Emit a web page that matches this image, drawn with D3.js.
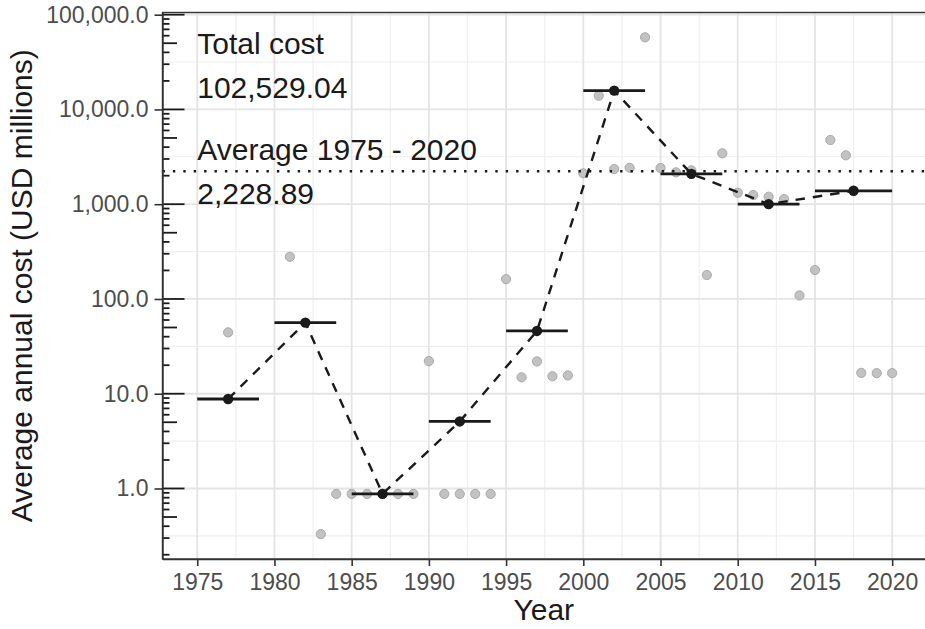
<!DOCTYPE html>
<html>
<head>
<meta charset="utf-8">
<script src="https://cdn.jsdelivr.net/npm/d3@7"></script>
<style>
body { margin: 0; background: #fff; }
text { font-family: "Liberation Sans", Arial, sans-serif; }
</style>
</head>
<body>
<svg id="chart" width="925" height="629"></svg>
<script>
//Yearly cost (USD millions), years without cost are not shown on log scale
var years = [1977, 1981, 1983, 1984, 1985, 1986, 1987, 1988, 1989,
             1990, 1991, 1992, 1993, 1994, 1995, 1996, 1997, 1998, 1999,
             2000, 2001, 2002, 2003, 2004, 2005, 2006, 2007, 2008, 2009,
             2010, 2011, 2012, 2013, 2014, 2015, 2016, 2017, 2018, 2019, 2020];
var costs = [44.4, 279, 0.33, 0.877, 0.877, 0.877, 0.877, 0.877, 0.877,
             22.1, 0.877, 0.877, 0.877, 0.877, 162, 14.9, 21.9, 15.3, 15.6,
             2118, 13960, 2350, 2426, 57700, 2406, 2168, 2276, 179, 3443,
             1321, 1250, 1199, 1133, 109, 202, 4757, 3279, 16.6, 16.5, 16.5];

//5-year period averages
var periodStart = [1975, 1980, 1985, 1990, 1995, 2000, 2005, 2010, 2015];
var periodEnd   = [1979, 1984, 1989, 1994, 1999, 2004, 2009, 2014, 2020];
var periodMid   = [1977, 1982, 1987, 1992, 1997, 2002, 2007, 2012, 2017.5];
var periodMean  = [8.8, 56.3, 0.877, 5.1, 46, 15800, 2090, 1001, 1385];

var totalCost = 102529.04;
var averageCost = 2228.89;

//Tick labels
var xTicks = [1975, 1980, 1985, 1990, 1995, 2000, 2005, 2010, 2015, 2020];
var yTicks = [1, 10, 100, 1000, 10000, 100000];

//Measurements for the panel
var pLeft = 162.5, pRight = 926.9, pTop = 12.5, pBottom = 559;

var xScale = d3.scaleLinear()
    .domain([1972.75, 2022.25])
    .range([pLeft, pRight]);

var yScale = d3.scaleLog()
    .domain([Math.pow(10, -0.744), Math.pow(10, 5.023)])
    .range([pBottom, pTop]);

var svg = d3.select('#chart');
var fmt = d3.format(',.1f');

//Grid
var minorY = [-0.5, 0.5, 1.5, 2.5, 3.5, 4.5].map(e => Math.pow(10, e));
var minorX = xTicks.slice(0, -1).map(d => d + 2.5);

var grid = svg.append('g');
grid.selectAll('.mny').data(minorY).enter().append('line')
    .attr('x1', pLeft).attr('x2', pRight)
    .attr('y1', d => yScale(d)).attr('y2', d => yScale(d))
    .attr('stroke', '#eeeeee').attr('stroke-width', 1.1);
grid.selectAll('.mnx').data(minorX).enter().append('line')
    .attr('y1', pTop).attr('y2', pBottom)
    .attr('x1', d => xScale(d)).attr('x2', d => xScale(d))
    .attr('stroke', '#eeeeee').attr('stroke-width', 1.1);
grid.selectAll('.mjy').data(yTicks).enter().append('line')
    .attr('x1', pLeft).attr('x2', pRight)
    .attr('y1', d => yScale(d)).attr('y2', d => yScale(d))
    .attr('stroke', '#e4e4e4').attr('stroke-width', 1.8);
grid.selectAll('.mjx').data(xTicks).enter().append('line')
    .attr('y1', pTop).attr('y2', pBottom)
    .attr('x1', d => xScale(d)).attr('x2', d => xScale(d))
    .attr('stroke', '#e4e4e4').attr('stroke-width', 1.8);

//Yearly points
svg.append('g').selectAll('circle')
    .data(years.map((y, i) => ({year: y, cost: costs[i]})))
    .enter().append('circle')
        .attr('cx', d => xScale(d.year))
        .attr('cy', d => yScale(d.cost))
        .attr('r', 4.6)
        .attr('fill', '#c2c2c2')
        .attr('stroke', '#a9a9a9')
        .attr('stroke-width', 1);

//Average line
svg.append('line')
    .attr('x1', pLeft).attr('x2', pRight)
    .attr('y1', yScale(averageCost)).attr('y2', yScale(averageCost))
    .attr('stroke', '#1a1a1a')
    .attr('stroke-width', 2.4)
    .attr('stroke-dasharray', '2.4,8');

//Period means
var periods = periodMid.map((m, i) => ({
    start: periodStart[i], end: periodEnd[i], mid: m, mean: periodMean[i]
}));

svg.append('path')
    .datum(periods)
    .attr('fill', 'none')
    .attr('stroke', '#1a1a1a')
    .attr('stroke-width', 2.4)
    .attr('stroke-dasharray', '9.5,8')
    .attr('d', d3.line().x(d => xScale(d.mid)).y(d => yScale(d.mean)));

svg.append('g').selectAll('line')
    .data(periods)
    .enter().append('line')
        .attr('x1', d => xScale(d.start))
        .attr('x2', d => xScale(d.end))
        .attr('y1', d => yScale(d.mean))
        .attr('y2', d => yScale(d.mean))
        .attr('stroke', '#1a1a1a')
        .attr('stroke-width', 2.8);

svg.append('g').selectAll('circle')
    .data(periods)
    .enter().append('circle')
        .attr('cx', d => xScale(d.mid))
        .attr('cy', d => yScale(d.mean))
        .attr('r', 5.2)
        .attr('fill', '#1a1a1a');

//Annotations
var ann = svg.append('g')
    .attr('font-size', '30px')
    .attr('fill', '#1a1a1a');
ann.append('text')
    .attr('x', xScale(1975)).attr('y', yScale(29000) - 11.3)
    .text('Total cost');
ann.append('text')
    .attr('x', xScale(1975)).attr('y', yScale(29000) + 32.5)
    .text(d3.format(',.2f')(totalCost));
ann.append('text')
    .attr('x', xScale(1975)).attr('y', yScale(averageCost) - 11.3)
    .text('Average 1975 - 2020');
ann.append('text')
    .attr('x', xScale(1975)).attr('y', yScale(averageCost) + 32.3)
    .text(d3.format(',.2f')(averageCost));

//Panel border
svg.append('rect')
    .attr('x', pLeft).attr('y', pTop)
    .attr('width', pRight - pLeft).attr('height', pBottom - pTop)
    .attr('fill', 'none')
    .attr('stroke', '#333333')
    .attr('stroke-width', 1.4);

//Log ticks inside the panel
var logTicks = [];
[-1, 0, 1, 2, 3, 4, 5].forEach(e => {
    [1, 2, 3, 4, 5, 6, 7, 8, 9].forEach(m => {
        var v = m * Math.pow(10, e);
        if (v >= yScale.domain()[0] && v <= yScale.domain()[1])
            logTicks.push({v: v, len: m === 1 ? 22 : (m === 5 ? 14.5 : 7)});
    });
});
svg.append('g').selectAll('line')
    .data(logTicks)
    .enter().append('line')
        .attr('x1', pLeft).attr('x2', d => pLeft + d.len)
        .attr('y1', d => yScale(d.v)).attr('y2', d => yScale(d.v))
        .attr('stroke', '#1a1a1a')
        .attr('stroke-width', 1.8);

//Axes
var xAxis = d3.axisBottom(xScale)
    .tickValues(xTicks)
    .tickFormat(d3.format('d'))
    .tickSize(7)
    .tickSizeOuter(0)
    .tickPadding(8);

var yAxis = d3.axisLeft(yScale)
    .tickValues(yTicks)
    .tickFormat(fmt)
    .tickSize(8)
    .tickSizeOuter(0)
    .tickPadding(6);

var gx = svg.append('g')
    .attr('transform', 'translate(0,' + pBottom + ')')
    .call(xAxis);
var gy = svg.append('g')
    .attr('transform', 'translate(' + pLeft + ',0)')
    .call(yAxis);

[gx, gy].forEach(g => {
    g.select('.domain').attr('stroke', '#333333').attr('stroke-width', 1.4);
    g.selectAll('.tick line').attr('stroke', '#333333').attr('stroke-width', 1.6);
    g.selectAll('.tick text')
        .attr('fill', '#4d4d4d')
        .style('font-family', '"Liberation Sans", Arial, sans-serif')
        .style('font-size', '23px');
});

//Axis titles
svg.append('text')
    .attr('x', (pLeft + 925) / 2)
    .attr('y', 620)
    .style('text-anchor', 'middle')
    .style('font-size', '30px')
    .attr('fill', '#1a1a1a')
    .text('Year');

svg.append('text')
    .attr('transform', 'rotate(-90)')
    .attr('x', -(pTop + pBottom) / 2)
    .attr('y', 32)
    .style('text-anchor', 'middle')
    .style('font-size', '30px')
    .attr('fill', '#1a1a1a')
    .text('Average annual cost (USD millions)');
</script>
</body>
</html>
